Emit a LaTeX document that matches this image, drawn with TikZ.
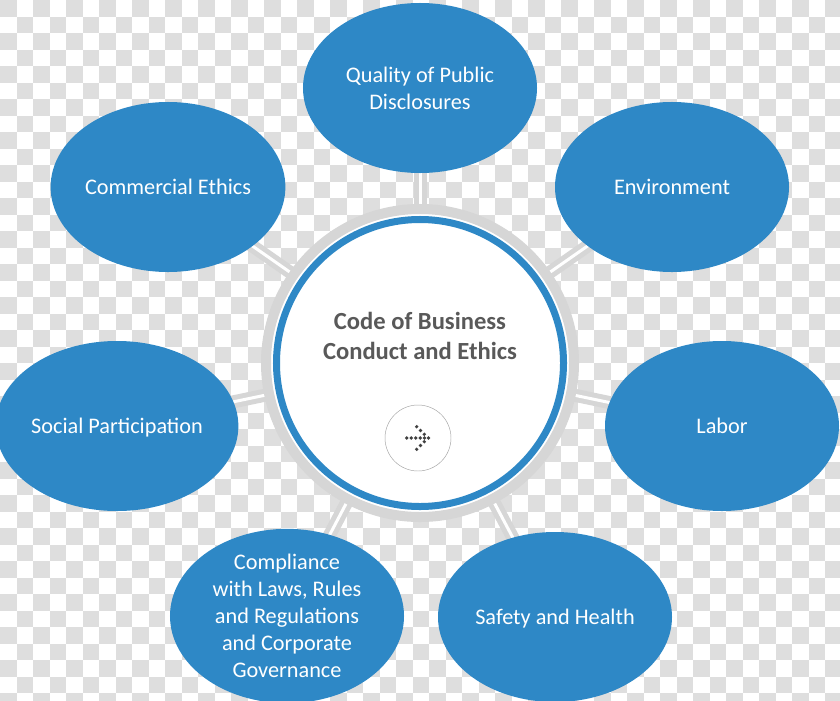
\documentclass[tikz,border=0pt]{standalone}
\usepackage{fontspec}
\setmainfont{Carlito}
\usetikzlibrary{shapes.geometric}

\definecolor{bubbleblue}{RGB}{46,136,198}
\definecolor{checkgray}{RGB}{222,222,222}
\definecolor{spokegray}{RGB}{214,214,214}
\definecolor{hubtext}{RGB}{89,89,89}

\tikzset{
  bubble/.style={ellipse, fill=bubbleblue, text=white, inner sep=0pt,
    minimum width=7.02cm, minimum height=5.1cm, align=center, text depth=0pt,
    font=\fontsize{19}{23}\selectfont},
  spoke/.style={draw=spokegray, line width=0.15cm, double=white, double distance=0.09cm},
  arrowdot/.style={fill=black!75}
}

\begin{document}
\begin{tikzpicture}[x=0.03cm, y=-0.03cm]

    \useasboundingbox (0,0) rectangle (840,701);

    % checkerboard
    \begin{scope}
        \clip (0,0) rectangle (840,701);
        \foreach \i in {0,...,50}{
            \foreach \j in {0,...,42}{
                \pgfmathtruncatemacro\parity{mod(\i+\j,2)}
                \ifnum\parity=0
                    \fill[checkgray] (16.5*\i,16.5*\j) rectangle ++(16.5,16.5);
                \fi
            }
        }
    \end{scope}

    \coordinate (mid) at (420,363);

    % spokes
    \draw[spoke] (mid) -- (420,88);
    \draw[spoke] (mid) -- (672,187);
    \draw[spoke] (mid) -- (168,187);
    \draw[spoke] (mid) -- (117,426);
    \draw[spoke] (mid) -- (722,426);
    \draw[spoke] (mid) -- (287,616);
    \draw[spoke] (mid) -- (555,617);

    \node[circle, draw=spokegray, fill=white, line width=0.3cm, minimum size=9.24cm] (ring) at (mid) {};
    \node[circle, draw=bubbleblue, fill=white, line width=0.21cm, minimum size=8.61cm] (hub) at (mid) {};

    \node[font=\fontsize{21}{26}\selectfont\bfseries, text=hubtext, align=center] (title) at (420,336) {Code of Business\\Conduct and Ethics};

    \node[bubble] (quality) at (420,88) {Quality of Public\\Disclosures};
    \node[bubble] (environment) at (672,187) {Environment};
    \node[bubble] (commercial) at (168,187) {Commercial Ethics};
    \node[bubble] (social) at (117,426) {Social Participation};
    \node[bubble] (labor) at (722,426) {Labor};
    \node[bubble] (compliance) at (287,616) {Compliance\\with Laws, Rules\\and Regulations\\and Corporate\\Governance};
    \node[bubble] (safety) at (555,617) {Safety and Health};

    \node[circle, draw=black!35, line width=0.4pt, minimum size=1.98cm] (next) at (418,438) {};
    \foreach \p in {(406.7,438),(411.2,438),(415.7,438),(420.2,438),(424.5,438),(428.5,438),
                    (416.7,426.7),(420.5,430.5),(424.3,434.3),
                    (424.3,441.7),(420.5,445.5),(416.7,449.3)}
        \fill[arrowdot] \p circle (0.055cm);

\end{tikzpicture}
\end{document}
